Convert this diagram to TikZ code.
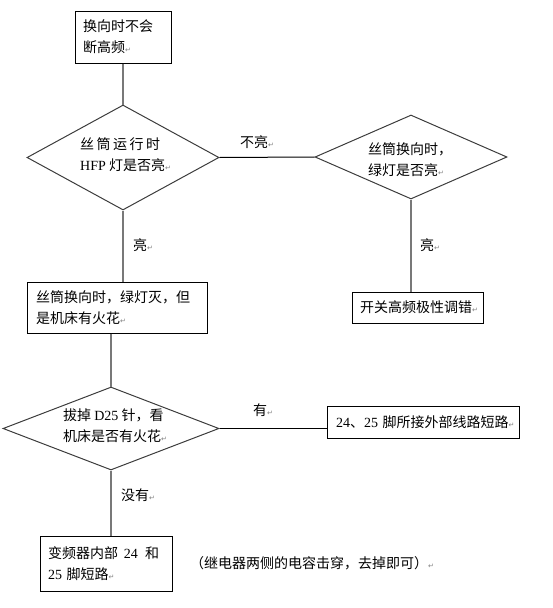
\documentclass[tikz,border=0pt]{standalone}
\usepackage{fontspec}
\setmainfont{Noto Sans CJK SC}
\newfontfamily\latn{Liberation Serif}
\newfontfamily\dejavu{DejaVu Sans}
\newcommand\lat[1]{{\latn #1}}
\usetikzlibrary{shapes.geometric}
\newcommand\parmark{{\dejavu\fontsize{7}{7}\selectfont\color{gray}↵}}
\definecolor{vline}{RGB}{120,120,120}
\definecolor{dline}{RGB}{60,60,60}
\begin{document}
\begin{tikzpicture}[x=1pt,y=-1pt,
  every node/.style={font=\fontsize{14}{21}\selectfont},
  box/.style={draw=black, line width=1pt, rectangle, inner xsep=8pt, inner ysep=0pt, align=left},
  dia/.style={draw=dline, line width=1pt, diamond, inner sep=0pt},
  dtext/.style={anchor=west, align=left, inner sep=0pt},
  lbl/.style={anchor=west, inner sep=0pt},
  vcon/.style={draw=vline, line width=1.6pt},
  hcon/.style={draw=black, line width=1pt}]
\useasboundingbox (0,0) rectangle (553,608);

% boxes
\node[box, minimum height=52pt, text width=80pt, inner xsep=8pt] (b1) at (123,37) {换向时不会\\断高频\parmark};
\node[box, minimum height=31pt, text width=115pt] (b2) at (417.5,307.5) {开关高频极性调错\parmark};
\node[box, minimum height=51pt, text width=162pt, inner xsep=9pt] (b3) at (117,307.5) {丝筒换向时，绿灯灭，但\\是机床有火花\parmark};
\node[box, minimum height=32pt, text width=174pt, inner xsep=9pt] (b4) at (423,422) {\mbox{\lat{24}、\lat{25} 脚所接外部线路短路\parmark}};
\node[box, minimum height=55pt, text width=116pt] (b5) at (106,563.5) {变频器内部\hspace{6pt}\lat{24}\hspace{7pt}和\\\lat{25} 脚短路\parmark};

% diamonds
\node[dia, minimum width=192pt, minimum height=105pt] (d1) at (123,157.5) {};
\node[dia, minimum width=192pt, minimum height=84pt] (d2) at (411,157) {};
\node[dia, minimum width=216pt, minimum height=83pt] (d3) at (111,428.5) {};

\node[dtext] (d1t) at (80,155) {丝\hspace{2.5pt}筒\hspace{2.5pt}运\hspace{2.5pt}行\hspace{2.5pt}时\\\lat{HFP} 灯是否亮\parmark};
\node[dtext] (d2t) at (368,160) {丝筒换向时，\\绿灯是否亮\parmark};
\node[dtext] (d3t) at (63,426) {拔掉 \lat{D25} 针，看\\机床是否有火花\parmark};

% connectors
\draw[vcon] (b1.south) -- (d1.north);
\draw[hcon] (d1.east) -- (d2.west);
\draw[vcon] (d2.south) -- (d2.south |- b2.north);
\draw[vcon] (d1.south) -- (d1.south |- b3.north);
\draw[vcon] (d3.north |- b3.south) -- (d3.north);
\draw[hcon] (d3.east) -- (d3.east -| b4.west);
\draw[vcon] (d3.south) -- (d3.south |- b5.north);

% labels
\node[lbl] (l1) at (240,142) {不亮\parmark};
\node[lbl] (l2) at (420,245) {亮\parmark};
\node[lbl] (l3) at (133,245) {亮\parmark};
\node[lbl] (l4) at (253,410) {有\parmark};
\node[lbl] (l5) at (121,495) {没有\parmark};
\node[lbl] (note) at (190,563) {（继电器两侧的电容击穿，去掉即可）\parmark};
\end{tikzpicture}
\end{document}
